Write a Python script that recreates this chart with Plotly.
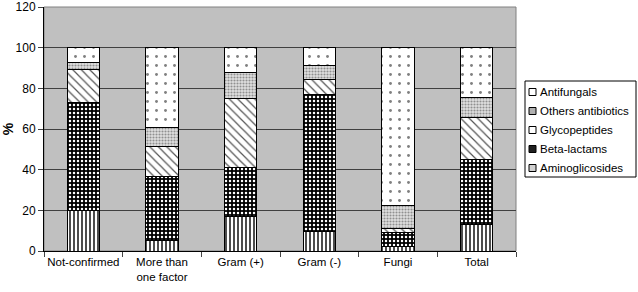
import plotly.graph_objects as go

categories = ["Not-confirmed", "More than<br>one factor", "Gram (+)", "Gram (-)", "Fungi", "Total"]
aminoglicosides = [20, 5, 17, 9.5, 2, 13]
beta_lactams = [53, 31.5, 24, 67.5, 7, 32]
glycopeptides = [16.5, 15, 34, 7.5, 2, 20.5]
others_antibiotics = [3, 9, 13, 6.5, 11.5, 10]
antifungals = [7.5, 39.5, 12, 9, 77.5, 24.5]

series = [
    ("Aminoglicosides", aminoglicosides, dict(shape="|", bgcolor="white", fgcolor="black", size=4, solidity=0.35)),
    ("Beta-lactams", beta_lactams, dict(shape=".", bgcolor="black", fgcolor="white", size=4, solidity=0.3)),
    ("Glycopeptides", glycopeptides, dict(shape="\\", bgcolor="white", fgcolor="#555555", size=6, solidity=0.2)),
    ("Others antibiotics", others_antibiotics, dict(shape=".", bgcolor="#e0e0e0", fgcolor="#909090", size=3, solidity=0.4)),
    ("Antifungals", antifungals, dict(shape=".", bgcolor="white", fgcolor="#808080", size=9, solidity=0.08)),
]
swatch_fill = {"Aminoglicosides": "#d0d0d0", "Beta-lactams": "#202020", "Glycopeptides": "white",
               "Others antibiotics": "#b0b0b0", "Antifungals": "white"}

W, H = 638, 292
ML, MR, MT, MB = 44, 122, 7, 41
PW, PH = W - ML - MR, H - MT - MB

def px(x):
    return (x - ML) / PW

def py(y):
    return (H - MB - y) / PH

fig = go.Figure()
for name, vals, pat in series:
    fig.add_trace(go.Bar(
        x=categories, y=vals, name=name, showlegend=False,
        marker=dict(color=pat["bgcolor"], pattern=dict(fillmode="replace", **pat),
                    line=dict(color="black", width=1)),
    ))

shapes = [dict(type="rect", xref="paper", yref="paper", x0=0, x1=1, y0=0, y1=1,
               line=dict(color="#808080", width=1), layer="below"),
          dict(type="rect", xref="paper", yref="paper", x0=px(525), x1=px(636), y0=py(81), y1=py(177),
               line=dict(color="black", width=1), fillcolor="white")]
annotations = []
for i, (name, vals, pat) in enumerate(reversed(series)):
    yc = 92 + 19 * i
    shapes.append(dict(type="rect", xref="paper", yref="paper", x0=px(529), x1=px(536),
                       y0=py(yc + 3.5), y1=py(yc - 3.5), line=dict(color="black", width=1),
                       fillcolor=swatch_fill[name]))
    annotations.append(dict(xref="paper", yref="paper", x=px(538), y=py(yc), text=name,
                            showarrow=False, xanchor="left", yanchor="middle",
                            font=dict(size=11.5, color="black")))

fig.update_layout(
    width=W, height=H,
    barmode="stack", bargap=0.59,
    paper_bgcolor="white", plot_bgcolor="#c0c0c0",
    margin=dict(l=ML, r=MR, t=MT, b=MB),
    font=dict(family="Liberation Sans, Arial", size=12, color="black"),
    showlegend=False,
    shapes=shapes, annotations=annotations,
)
fig.update_yaxes(range=[0, 120], dtick=20, showgrid=True, gridcolor="#404040", gridwidth=1,
                 showline=True, linecolor="black", ticks="outside", ticklen=5,
                 title=dict(text="<b>%</b>", standoff=10), zeroline=False, automargin=False)
fig.update_xaxes(showline=True, linecolor="black", ticks="outside", ticklen=5, tickangle=0,
                 tickfont=dict(size=11.5),
                 tickson="boundaries", showgrid=False, automargin=False)

fig.write_html("out.html", config={"displayModeBar": False},
               post_script="document.body.style.margin='0';document.body.style.overflow='hidden';")
